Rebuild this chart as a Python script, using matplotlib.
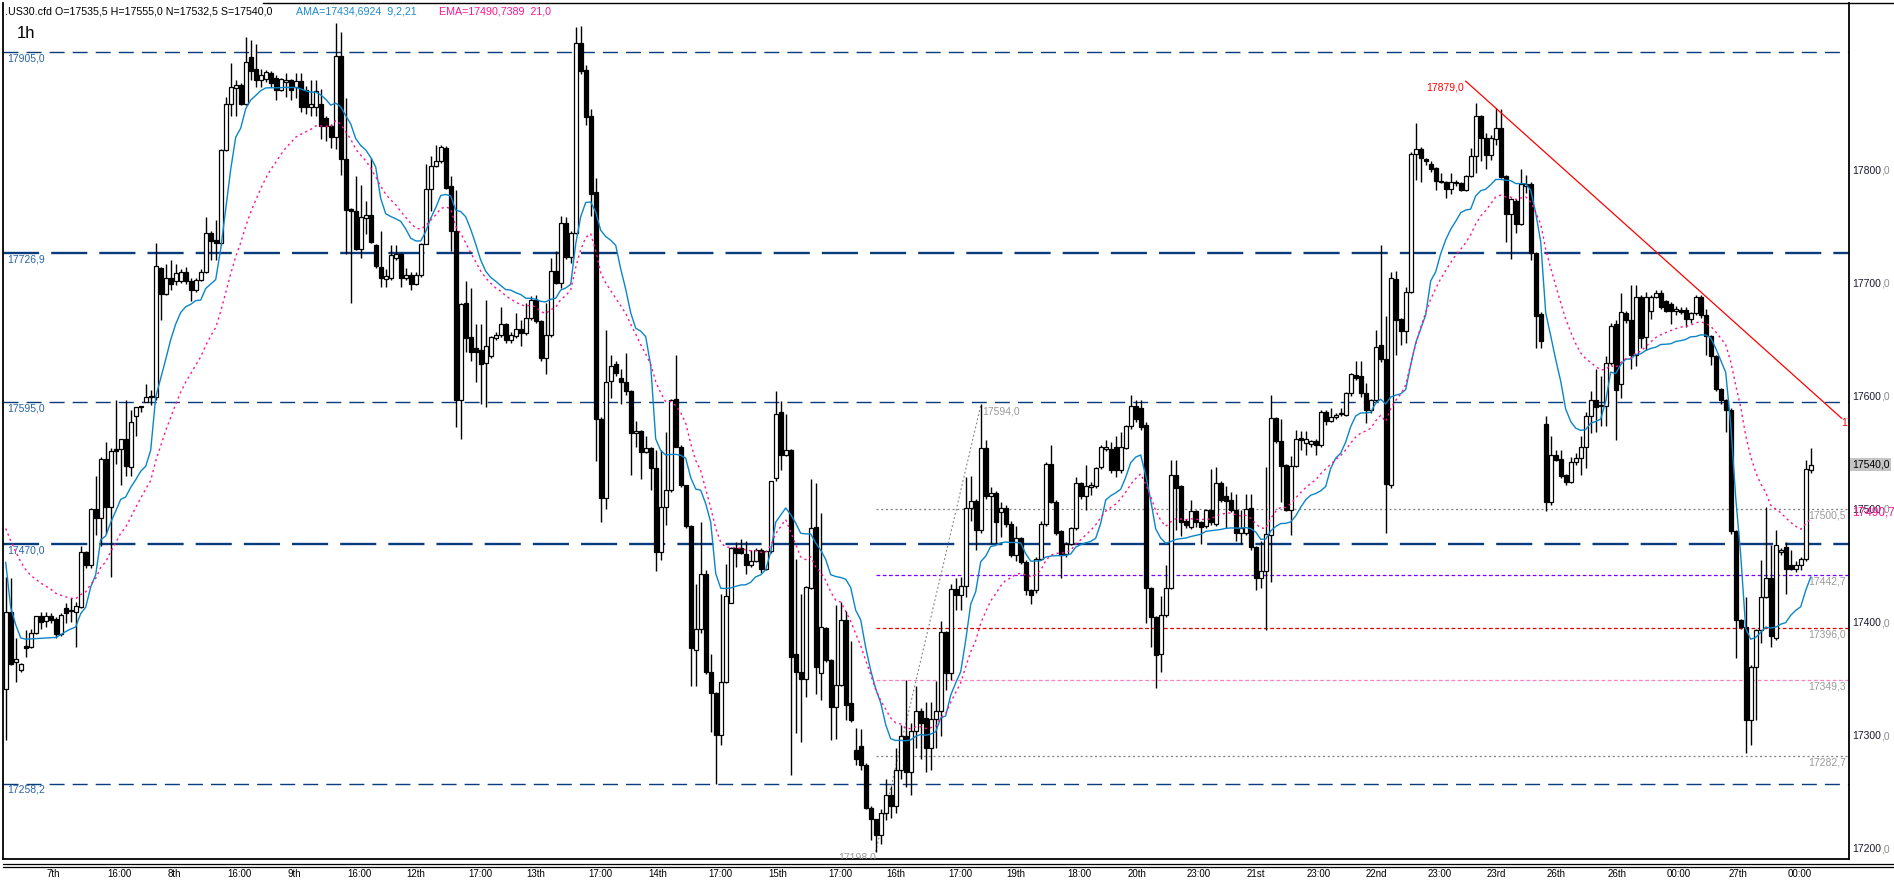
import numpy as np
import matplotlib
matplotlib.use("Agg")
import matplotlib.pyplot as plt
from matplotlib.lines import Line2D

plt.rcParams['font.family'] = ['Liberation Sans', 'DejaVu Sans']

# hourly OHLC, .US30.cfd
opens = [
    17342, 17410, 17366, 17359, 17380, 17379, 17391, 17406, 17402, 17406,
    17404, 17390, 17413, 17412, 17410, 17414, 17463, 17451, 17501, 17493,
    17545, 17503, 17554, 17554, 17563, 17538, 17583, 17591, 17595, 17600,
    17600, 17714, 17691, 17705, 17702, 17702, 17710, 17702, 17694, 17703,
    17710, 17745, 17739, 17736, 17818, 17859, 17873, 17876, 17859, 17900,
    17890, 17880, 17881, 17886, 17882, 17871, 17878, 17880, 17874, 17879,
    17871, 17856, 17856, 17859, 17846, 17839, 17830, 17901, 17810, 17766,
    17764, 17731, 17758, 17761, 17734, 17715, 17704, 17705, 17723, 17726,
    17705, 17708, 17700, 17708, 17735, 17784, 17804, 17808, 17820, 17786,
    17747, 17597, 17683, 17653, 17643, 17641, 17630, 17636, 17652, 17655,
    17664, 17650, 17654, 17660, 17656, 17670, 17686, 17667, 17634, 17655,
    17711, 17701, 17754, 17724, 17745, 17913, 17889, 17848, 17781, 17580,
    17511, 17614, 17629, 17617, 17613, 17605, 17568, 17570, 17551, 17555,
    17537, 17463, 17503, 17518, 17598, 17556, 17522, 17486, 17376, 17395,
    17443, 17357, 17338, 17301, 17348, 17418, 17466, 17466, 17461, 17451,
    17455, 17465, 17448, 17464, 17528, 17587, 17549, 17553, 17373, 17357,
    17351, 17431, 17485, 17356, 17396, 17367, 17326, 17345, 17403, 17329,
    17288, 17291, 17275, 17237, 17227, 17213, 17232, 17248, 17238, 17270,
    17300, 17268, 17305, 17322, 17316, 17290, 17315, 17322, 17392, 17356,
    17430, 17425, 17433, 17502, 17508, 17482, 17555, 17512, 17515, 17498,
    17502, 17488, 17460, 17475, 17454, 17429, 17429, 17457, 17488, 17541,
    17507, 17481, 17461, 17470, 17484, 17524, 17512, 17520, 17521, 17538,
    17554, 17554, 17556, 17535, 17555, 17574, 17592, 17590, 17575, 17431,
    17405, 17373, 17407, 17431, 17531, 17521, 17490, 17485, 17499, 17489,
    17486, 17500, 17488, 17524, 17512, 17509, 17500, 17480, 17480, 17502,
    17467, 17440, 17446, 17478, 17581, 17561, 17540, 17500, 17539, 17564,
    17559, 17558, 17561, 17557, 17587, 17579, 17582, 17585, 17584, 17603,
    17619, 17618, 17603, 17588, 17597, 17646, 17633, 17522, 17704, 17669,
    17658, 17693, 17815, 17819, 17810, 17806, 17802, 17790, 17790, 17784,
    17790, 17789, 17783, 17795, 17813, 17848, 17829, 17814, 17828, 17838,
    17795, 17762, 17773, 17753, 17786, 17788, 17727, 17673, 17576, 17507,
    17549, 17545, 17531, 17525, 17542, 17546, 17556, 17583, 17597, 17592,
    17592, 17630, 17664, 17611, 17674, 17668, 17637, 17688, 17653, 17676,
    17688, 17692, 17685, 17682, 17676, 17677, 17677, 17669, 17674, 17688,
    17672, 17654, 17636, 17607, 17597, 17588, 17481, 17403, 17397, 17314,
    17361, 17394, 17423, 17440, 17387, 17463, 17467, 17451, 17448, 17451,
    17457, 17535.5]

highs = [
    17441, 17440, 17387, 17365, 17394, 17395, 17406, 17410, 17410, 17409,
    17405, 17409, 17418, 17422, 17419, 17468, 17464, 17502, 17530, 17547,
    17560, 17555, 17597, 17563, 17597, 17588, 17591, 17592, 17611, 17606,
    17736, 17715, 17717, 17721, 17717, 17713, 17715, 17705, 17705, 17713,
    17759, 17747, 17756, 17819, 17865, 17895, 17880, 17877, 17918, 17915,
    17912, 17890, 17889, 17888, 17884, 17882, 17886, 17881, 17886, 17886,
    17875, 17880, 17880, 17872, 17848, 17841, 17930, 17922, 17864, 17767,
    17795, 17787, 17773, 17811, 17735, 17747, 17713, 17734, 17734, 17727,
    17714, 17710, 17710, 17736, 17806, 17813, 17823, 17823, 17822, 17795,
    17783, 17683, 17702, 17696, 17664, 17664, 17686, 17654, 17657, 17679,
    17665, 17657, 17674, 17668, 17683, 17689, 17690, 17668, 17683, 17723,
    17729, 17760, 17759, 17747, 17927, 17928, 17893, 17854, 17793, 17582,
    17659, 17637, 17632, 17625, 17639, 17606, 17579, 17571, 17565, 17556,
    17553, 17553, 17569, 17598, 17637, 17557, 17522, 17487, 17435, 17489,
    17447, 17373, 17339, 17426, 17452, 17467, 17472, 17474, 17473, 17465,
    17466, 17466, 17464, 17526, 17605, 17596, 17585, 17554, 17457, 17426,
    17433, 17527, 17524, 17497, 17397, 17368, 17416, 17419, 17411, 17384,
    17307, 17306, 17276, 17238, 17227, 17236, 17262, 17256, 17290, 17310,
    17350, 17312, 17344, 17325, 17330, 17330, 17349, 17402, 17393, 17435,
    17440, 17441, 17529, 17530, 17510, 17594, 17562, 17520, 17517, 17507,
    17504, 17490, 17486, 17476, 17456, 17430, 17458, 17490, 17542, 17557,
    17509, 17482, 17472, 17485, 17529, 17525, 17540, 17525, 17538, 17557,
    17562, 17560, 17565, 17569, 17575, 17602, 17597, 17597, 17578, 17432,
    17406, 17424, 17451, 17544, 17544, 17522, 17492, 17509, 17500, 17490,
    17501, 17536, 17538, 17526, 17521, 17516, 17514, 17500, 17514, 17514,
    17468, 17473, 17538, 17602, 17582, 17580, 17541, 17548, 17571, 17570,
    17570, 17562, 17563, 17588, 17588, 17590, 17586, 17590, 17604, 17621,
    17632, 17632, 17612, 17598, 17659, 17734, 17671, 17710, 17711, 17670,
    17697, 17816, 17842, 17821, 17811, 17808, 17803, 17798, 17791, 17798,
    17792, 17790, 17796, 17820, 17860, 17849, 17833, 17831, 17855, 17854,
    17796, 17776, 17775, 17801, 17796, 17790, 17728, 17675, 17583, 17565,
    17553, 17553, 17532, 17547, 17550, 17565, 17587, 17605, 17625, 17618,
    17636, 17665, 17668, 17692, 17676, 17699, 17699, 17690, 17693, 17690,
    17694, 17694, 17686, 17684, 17680, 17679, 17679, 17675, 17690, 17690,
    17678, 17655, 17637, 17608, 17598, 17590, 17482, 17404, 17423, 17363,
    17395, 17456, 17503, 17469, 17482, 17466, 17472, 17465, 17455, 17458,
    17544, 17555]

lows = [
    17297, 17363, 17348, 17357, 17370, 17378, 17390, 17395, 17397, 17400,
    17387, 17389, 17400, 17401, 17379, 17413, 17449, 17449, 17478, 17468,
    17479, 17441, 17541, 17522, 17530, 17530, 17565, 17587, 17595, 17593,
    17597, 17668, 17690, 17694, 17699, 17701, 17700, 17685, 17693, 17702,
    17709, 17721, 17721, 17734, 17817, 17848, 17848, 17858, 17858, 17880,
    17874, 17874, 17878, 17874, 17862, 17870, 17865, 17862, 17864, 17852,
    17850, 17848, 17848, 17828, 17826, 17820, 17819, 17796, 17726, 17683,
    17730, 17723, 17744, 17736, 17714, 17697, 17697, 17703, 17721, 17697,
    17703, 17694, 17699, 17706, 17735, 17764, 17803, 17807, 17784, 17729,
    17573, 17563, 17640, 17632, 17613, 17594, 17591, 17634, 17650, 17653,
    17648, 17648, 17652, 17645, 17655, 17668, 17665, 17632, 17620, 17653,
    17700, 17696, 17722, 17718, 17744, 17885, 17840, 17760, 17543, 17489,
    17501, 17599, 17618, 17594, 17602, 17531, 17556, 17527, 17550, 17518,
    17446, 17456, 17487, 17516, 17556, 17520, 17484, 17344, 17344, 17391,
    17355, 17304, 17258, 17292, 17347, 17418, 17450, 17461, 17443, 17450,
    17454, 17444, 17447, 17462, 17526, 17535, 17548, 17266, 17303, 17295,
    17335, 17430, 17337, 17332, 17366, 17297, 17298, 17344, 17314, 17313,
    17275, 17270, 17236, 17208, 17198, 17205, 17226, 17228, 17232, 17262,
    17255, 17248, 17290, 17280, 17268, 17270, 17290, 17300, 17341, 17350,
    17412, 17412, 17423, 17490, 17465, 17480, 17510, 17470, 17470, 17476,
    17485, 17458, 17455, 17452, 17425, 17417, 17427, 17456, 17486, 17506,
    17478, 17440, 17458, 17469, 17482, 17510, 17500, 17513, 17519, 17536,
    17552, 17533, 17529, 17533, 17554, 17572, 17578, 17571, 17400, 17379,
    17343, 17357, 17405, 17430, 17482, 17477, 17484, 17483, 17485, 17470,
    17484, 17487, 17486, 17507, 17484, 17498, 17473, 17470, 17478, 17465,
    17429, 17431, 17394, 17436, 17559, 17507, 17499, 17478, 17538, 17553,
    17549, 17556, 17549, 17556, 17575, 17578, 17580, 17583, 17583, 17601,
    17615, 17600, 17577, 17586, 17595, 17631, 17480, 17519, 17637, 17646,
    17648, 17692, 17792, 17790, 17805, 17799, 17783, 17789, 17776, 17779,
    17786, 17782, 17782, 17794, 17798, 17808, 17801, 17809, 17823, 17793,
    17737, 17722, 17745, 17752, 17780, 17721, 17643, 17643, 17499, 17504,
    17543, 17528, 17522, 17524, 17540, 17531, 17537, 17568, 17569, 17574,
    17574, 17628, 17562, 17599, 17665, 17625, 17627, 17643, 17641, 17669,
    17687, 17678, 17675, 17664, 17672, 17673, 17662, 17665, 17672, 17670,
    17637, 17628, 17605, 17594, 17569, 17479, 17369, 17395, 17285, 17292,
    17314, 17382, 17422, 17379, 17385, 17460, 17426, 17447, 17445, 17447,
    17455, 17532.5]

closes = [
    17410, 17364, 17368, 17364, 17378, 17391, 17406, 17401, 17406, 17403,
    17390, 17407, 17409, 17411, 17415, 17463, 17451, 17501, 17493, 17545,
    17503, 17552, 17552, 17563, 17539, 17578, 17591, 17592, 17600, 17601,
    17716, 17691, 17705, 17700, 17709, 17710, 17702, 17694, 17703, 17710,
    17745, 17738, 17736, 17818, 17859, 17874, 17876, 17859, 17896, 17888,
    17880, 17884, 17887, 17877, 17871, 17881, 17880, 17871, 17879, 17856,
    17856, 17859, 17870, 17839, 17839, 17830, 17901, 17810, 17765, 17764,
    17731, 17759, 17761, 17737, 17716, 17705, 17707, 17725, 17726, 17705,
    17708, 17700, 17708, 17735, 17784, 17804, 17808, 17821, 17785, 17747,
    17597, 17682, 17652, 17640, 17640, 17629, 17645, 17653, 17655, 17664,
    17650, 17655, 17660, 17656, 17670, 17686, 17667, 17634, 17655, 17711,
    17701, 17754, 17724, 17745, 17913, 17888, 17847, 17779, 17580, 17511,
    17613, 17627, 17621, 17613, 17605, 17568, 17570, 17551, 17555, 17537,
    17463, 17503, 17518, 17597, 17556, 17522, 17486, 17378, 17395, 17443,
    17357, 17338, 17301, 17348, 17424, 17466, 17462, 17462, 17451, 17455,
    17465, 17448, 17464, 17526, 17585, 17549, 17553, 17370, 17357, 17351,
    17432, 17484, 17361, 17397, 17367, 17326, 17345, 17403, 17328, 17314,
    17280, 17275, 17237, 17227, 17213, 17232, 17248, 17238, 17270, 17300,
    17268, 17305, 17322, 17312, 17290, 17315, 17322, 17392, 17356, 17430,
    17425, 17433, 17502, 17508, 17482, 17555, 17512, 17515, 17489, 17502,
    17488, 17460, 17475, 17454, 17429, 17425, 17457, 17488, 17541, 17507,
    17480, 17460, 17470, 17484, 17524, 17512, 17521, 17522, 17537, 17556,
    17556, 17535, 17535, 17556, 17574, 17592, 17580, 17573, 17431, 17405,
    17372, 17407, 17431, 17531, 17519, 17489, 17487, 17499, 17489, 17485,
    17500, 17489, 17524, 17509, 17508, 17500, 17480, 17484, 17501, 17467,
    17440, 17446, 17479, 17581, 17561, 17539, 17500, 17539, 17563, 17562,
    17563, 17561, 17557, 17587, 17579, 17582, 17584, 17585, 17603, 17620,
    17617, 17603, 17588, 17597, 17644, 17633, 17523, 17705, 17668, 17658,
    17693, 17815, 17819, 17811, 17808, 17801, 17791, 17791, 17784, 17790,
    17789, 17783, 17795, 17813, 17848, 17829, 17814, 17829, 17838, 17794,
    17762, 17775, 17753, 17788, 17788, 17727, 17671, 17649, 17507, 17549,
    17544, 17530, 17525, 17542, 17546, 17556, 17583, 17597, 17591, 17593,
    17630, 17663, 17606, 17675, 17668, 17637, 17688, 17652, 17688, 17688,
    17692, 17679, 17676, 17676, 17678, 17675, 17669, 17674, 17688, 17672,
    17654, 17636, 17607, 17597, 17588, 17481, 17403, 17397, 17314, 17361,
    17394, 17423, 17440, 17389, 17469, 17465, 17448, 17448, 17451, 17457,
    17536, 17540]

# indicator starting values carried over from the bars before the window
ema_seed = 17491.0
ama_seed = 17454.0

# horizontal support / resistance levels
levels = [17905.0, 17726.9, 17595.0, 17470.0, 17258.2]
level_thick = [False, True, False, True, False]

# fibo retracement 17198 -> 17594
fib_bars = [174, 195.1]
fib_prices = [17198.0, 17594.0]
fib_levels = [17500.5, 17442.7, 17396.0, 17349.3, 17282.7]
fib_colors = ['#808080', '#8000ff', '#e00000', '#ff80c0', '#808080']

# red trend line
trend_bars = [292.0, 367.2]
trend_prices = [17879.0, 17581.0]

# time axis labels
tick_pos = [9.5, 22.7, 33.7, 46.7, 57.7, 70.7, 82.1, 94.9, 106.1, 118.9,
            130.4, 143.0, 154.4, 167.0, 178.0, 190.9, 202.0, 214.8, 226.2, 238.5,
            250.0, 262.6, 274.2, 286.7, 298.1, 310.1, 322.2, 334.6, 346.5, 358.7]
tick_lab = ['7th', '16:00', '8th', '16:00', '9th', '16:00', '12th', '17:00', '13th', '17:00',
            '14th', '17:00', '15th', '17:00', '16th', '17:00', '19th', '18:00', '20th', '23:00',
            '21st', '23:00', '22nd', '23:00', '23rd', '26th', '26th', '00:00', '27th', '00:00']
yticks = [17200, 17300, 17400, 17500, 17600, 17700, 17800]

o = np.array(opens, float)
h = np.array(highs, float)
l = np.array(lows, float)
c = np.array(closes, float)
n = len(c)
idx = np.arange(n)

# EMA 21
alpha = 2.0 / 22
ema = np.empty(n)
prev = ema_seed
for i in range(n):
    prev += alpha * (c[i] - prev)
    ema[i] = prev

# Kaufman AMA 9,2,21
fsc, ssc = 2.0 / 3, 2.0 / 22
ama = np.empty(n)
prev = ama_seed
for i in range(n):
    j = max(0, i - 9)
    vol = np.abs(np.diff(c[j:i + 1])).sum()
    er = abs(c[i] - c[j]) / vol if vol > 0 else 0.0
    sc = (er * (fsc - ssc) + ssc) ** 2
    prev += sc * (c[i] - prev)
    ama[i] = prev

W, H = 1894, 882
fig = plt.figure(figsize=(W / 100, H / 100), dpi=100)
ax = fig.add_axes([3 / W, 1 - 858.7 / H, (1849 - 3) / W, (858.7 - 3.3) / H])
ax.set_xlim(-0.54, 368.66)
ax.set_ylim(17191.8, 17947.8)
ax.spines['top'].set_visible(False)
for s in ['left', 'right', 'bottom']:
    ax.spines[s].set_linewidth(1.3)
ax.set_yticks([])
ax.set_xticks(tick_pos)
ax.set_xticklabels(tick_lab, fontsize=7)
ax.tick_params(axis='x', length=0, pad=7.2)

navy = '#083c7c'
for lv, thick in zip(levels, level_thick):
    if thick:
        ax.axhline(lv, color=navy, lw=1.7, dashes=(15.3, 5.1), zorder=2)
    else:
        ax.axhline(lv, color=navy, lw=1.0, dashes=(10.8, 5.8), zorder=2)
    ax.annotate(('%.1f' % lv).replace('.', ','), xy=(0, lv), xycoords=('axes fraction', 'data'),
                xytext=(2.9, -4.6), textcoords='offset points', ha='left', va='center',
                fontsize=7.5, color='#2a64a8')

xr = ax.get_xlim()[1]
for lv, col in zip(fib_levels, fib_colors):
    ds = (1.6, 2.2) if col == '#808080' else (3, 2)
    ax.plot([fib_bars[0], xr], [lv, lv], color=col, lw=0.9, dashes=ds, zorder=2)
    ax.annotate(('%.1f' % lv).replace('.', ','), xy=(1, lv), xycoords=('axes fraction', 'data'),
                xytext=(-2.4, -4.6), textcoords='offset points', ha='right', va='center',
                fontsize=7.5, color='#9a9a9a')
ax.plot(fib_bars, fib_prices, color='#808080', lw=0.8, dashes=(1.6, 2.2), zorder=2)
ax.annotate('17594,0', xy=(fib_bars[1], fib_prices[1]), xytext=(1, -5.5),
            textcoords='offset points', ha='left', va='center', fontsize=7.5, color='#9a9a9a')
ax.text(fib_bars[0], 17193, '17198,0', ha='right', va='center', fontsize=7.5,
        color='#9a9a9a', clip_on=True)

# candles
up = c >= o
ax.vlines(idx, np.minimum(l, np.minimum(o, c)), np.maximum(h, np.maximum(o, c)),
          color='black', lw=1.0, zorder=3)
ax.bar(idx, np.maximum(np.abs(c - o), 0.3), bottom=np.minimum(o, c), width=0.78,
       color=np.where(up, 'white', 'black'), edgecolor='black', linewidth=0.9, zorder=4)

ax.plot(idx, ama, color='#0a86c8', lw=1.0, zorder=5)
ax.plot(idx, ema, color='#ff1493', lw=1.0, dashes=(1.6, 2.4), zorder=5)

ax.plot(trend_bars, trend_prices, color='#ff0000', lw=0.9, zorder=5)
ax.annotate('17879,0', xy=(trend_bars[0], trend_prices[0]), xytext=(-1, -4.3),
            textcoords='offset points', ha='right', va='center', fontsize=7.5, color='#ff0000')
ax.text(trend_bars[1], trend_prices[1] - 4, '17581,0', ha='left', va='center',
        fontsize=7.5, color='#ff0000', clip_on=True)

# right price scale
for v in yticks:
    t = ax.annotate('%d' % v, xy=(1, v), xycoords=('axes fraction', 'data'), xytext=(2.2, 0),
                    textcoords='offset points', ha='left', va='center', fontsize=7.5,
                    color='#1a1a30', annotation_clip=False)
    ax.annotate(',0', xy=(1, 0.5), xycoords=t, ha='left', va='center', fontsize=7.5,
                color='#8c8c8c', annotation_clip=False)
ax.annotate('17540,0', xy=(1, c[-1]), xycoords=('axes fraction', 'data'), xytext=(2.2, 0),
            textcoords='offset points', ha='left', va='center', fontsize=7.5, color='black',
            bbox=dict(boxstyle='square,pad=0.15', fc='#c4c4c4', ec='none'), annotation_clip=False)
ax.annotate('17490,7', xy=(1, 17490.7), xycoords=('axes fraction', 'data'), xytext=(2.2, 5.5),
            textcoords='offset points', ha='left', va='center', fontsize=8.5, color='#ff1493',
            annotation_clip=False)

# frame bits outside the axes
fig.add_artist(Line2D([263 / W, 1], [1 - 3.3 / H] * 2, color='black', lw=1.0))
fig.add_artist(Line2D([3 / W, 1], [1 - 864 / H] * 2, color='black', lw=0.9))
fig.add_artist(Line2D([3 / W, 1], [1 - 867.3 / H] * 2, color='black', lw=0.9))

fig.text(5 / W, 1 - 11 / H, '.US30.cfd O=17535,5 H=17555,0 N=17532,5 S=17540,0',
         fontsize=7.7, va='center', ha='left', color='black')
fig.text(296 / W, 1 - 11 / H, 'AMA=17434,6924  9,2,21', fontsize=7.7, va='center',
         ha='left', color='#1c8ad0')
fig.text(439 / W, 1 - 11 / H, 'EMA=17490,7389  21,0', fontsize=7.7, va='center',
         ha='left', color='#ff1493')
fig.text(17 / W, 1 - 34 / H, '1h', fontsize=12, va='center', ha='left', color='black')

fig.savefig('out.png', dpi=100)
